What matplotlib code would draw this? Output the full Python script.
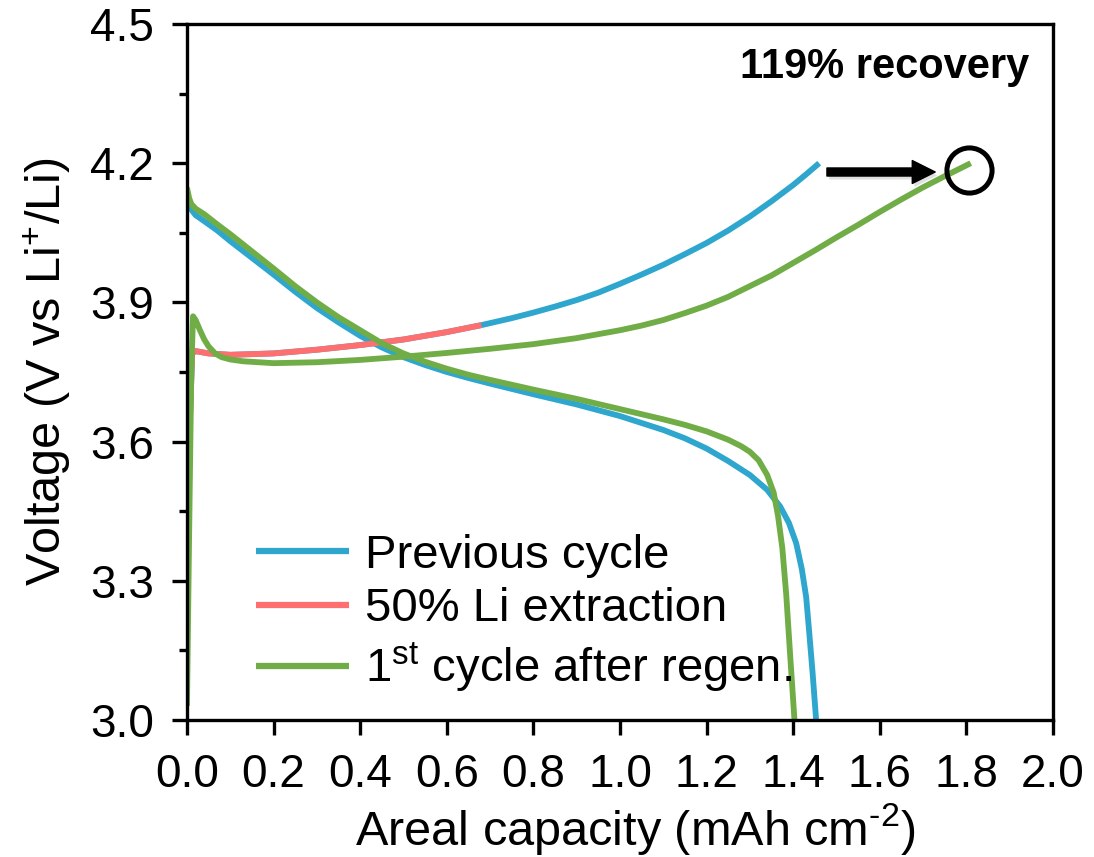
import matplotlib
matplotlib.use("Agg")
import matplotlib.pyplot as plt
import matplotlib.patheffects as pe
from matplotlib.ticker import MultipleLocator, FormatStrFormatter

plt.rcParams['font.family'] = ['Liberation Sans', 'DejaVu Sans']
plt.rcParams['mathtext.fontset'] = 'custom'
plt.rcParams['mathtext.rm'] = 'Liberation Sans'
plt.rcParams['mathtext.it'] = 'Liberation Sans'
plt.rcParams['mathtext.bf'] = 'Liberation Sans:bold'

# ---- data ----
prev_chg_x = [0.0, 0.005, 0.012, 0.02, 0.05, 0.1, 0.2, 0.3, 0.4, 0.5, 0.6, 0.68,
              0.75, 0.8, 0.85, 0.9, 0.95, 1.0, 1.05, 1.1, 1.15, 1.2, 1.25, 1.3,
              1.35, 1.4, 1.43, 1.46]
prev_chg_v = [3.24, 3.60, 3.79, 3.795, 3.79, 3.787, 3.79, 3.798, 3.808, 3.82, 3.836, 3.851,
              3.866, 3.878, 3.891, 3.905, 3.921, 3.94, 3.96, 3.981, 4.004, 4.028, 4.055,
              4.085, 4.118, 4.153, 4.176, 4.20]

prev_dis_x = [0.0, 0.005, 0.01, 0.02, 0.04, 0.07, 0.1, 0.15, 0.2, 0.25, 0.3, 0.35, 0.4,
              0.45, 0.5, 0.55, 0.6, 0.65, 0.7, 0.8, 0.9, 1.0, 1.1, 1.15, 1.2, 1.25,
              1.3, 1.34, 1.37, 1.39, 1.407, 1.42, 1.43, 1.437, 1.445, 1.453]
prev_dis_v = [4.136, 4.115, 4.10, 4.088, 4.075, 4.055, 4.032, 3.996, 3.96, 3.923, 3.888,
              3.857, 3.828, 3.803, 3.782, 3.765, 3.75, 3.737, 3.725, 3.702, 3.68, 3.655,
              3.625, 3.607, 3.585, 3.558, 3.528, 3.496, 3.46, 3.425, 3.381, 3.325,
              3.265, 3.19, 3.10, 3.0]

extr_x = [0.0, 0.005, 0.012, 0.02, 0.05, 0.1, 0.2, 0.3, 0.4, 0.5, 0.6, 0.68]
extr_v = [3.24, 3.60, 3.79, 3.795, 3.79, 3.787, 3.79, 3.798, 3.808, 3.82, 3.836, 3.851]

regen_chg_x = [0.0, 0.005, 0.01, 0.014, 0.02, 0.03, 0.04, 0.05, 0.065, 0.08, 0.1, 0.13,
               0.2, 0.3, 0.4, 0.5, 0.6, 0.7, 0.8, 0.9, 1.0, 1.05, 1.1, 1.15, 1.2, 1.25,
               1.3, 1.35, 1.4, 1.45, 1.5, 1.55, 1.6, 1.65, 1.7, 1.75, 1.81]
regen_chg_v = [3.03, 3.40, 3.75, 3.87, 3.862, 3.84, 3.82, 3.805, 3.79, 3.782, 3.777, 3.773,
               3.769, 3.771, 3.776, 3.783, 3.791, 3.80, 3.81, 3.823, 3.84, 3.85, 3.862,
               3.877, 3.893, 3.912, 3.935, 3.958, 3.985, 4.012, 4.04, 4.067, 4.095,
               4.122, 4.148, 4.172, 4.20]

regen_dis_x = [0.0, 0.005, 0.01, 0.02, 0.04, 0.07, 0.1, 0.15, 0.2, 0.25, 0.3, 0.35, 0.4,
               0.45, 0.5, 0.55, 0.6, 0.65, 0.7, 0.8, 0.9, 1.0, 1.1, 1.15, 1.2, 1.25,
               1.28, 1.3, 1.32, 1.34, 1.355, 1.365, 1.375, 1.384, 1.393, 1.403]
regen_dis_v = [4.147, 4.125, 4.112, 4.102, 4.09, 4.068, 4.047, 4.01, 3.973, 3.935, 3.90,
               3.868, 3.84, 3.812, 3.79, 3.772, 3.757, 3.744, 3.733, 3.712, 3.692, 3.67,
               3.648, 3.636, 3.622, 3.604, 3.59, 3.578, 3.56, 3.528, 3.49, 3.44, 3.37,
               3.27, 3.14, 3.0]

labels = ['Previous cycle', '50% Li extraction', r'1$^{\mathrm{st}}$ cycle after regen.']
colors = ['#2EA6CE', '#FF6F6F', '#70AD47']

arrow_start = (1.478, 4.181)
arrow_end = (1.728, 4.181)
circle_pt = (1.806, 4.185)
annotation_text = '119% recovery'

# ---- figure ----
fig = plt.figure(figsize=(10.94, 8.57), dpi=100)
ax = fig.add_axes([0.1709, 0.1599, 0.7916, 0.8121])

lw = 4.2
ax.plot(prev_chg_x, prev_chg_v, color=colors[0], lw=lw, label=labels[0], solid_capstyle='butt')
ax.plot(prev_dis_x, prev_dis_v, color=colors[0], lw=lw, solid_capstyle='butt')
ax.plot(extr_x, extr_v, color=colors[1], lw=lw, label=labels[1], solid_capstyle='butt')
ax.plot(regen_chg_x, regen_chg_v, color=colors[2], lw=lw, label=labels[2], solid_capstyle='butt')
ax.plot(regen_dis_x, regen_dis_v, color=colors[2], lw=lw, solid_capstyle='butt')

ax.set_xlim(0, 2.0)
ax.set_ylim(3.0, 4.5)
ax.xaxis.set_major_locator(MultipleLocator(0.2))
ax.yaxis.set_major_locator(MultipleLocator(0.3))
ax.yaxis.set_minor_locator(MultipleLocator(0.15))
ax.xaxis.set_major_formatter(FormatStrFormatter('%.1f'))
ax.yaxis.set_major_formatter(FormatStrFormatter('%.1f'))

for s in ax.spines.values():
    s.set_linewidth(2.4)
ax.tick_params(axis='both', which='major', direction='out', length=11, width=2.4,
               labelsize=33, pad=13)
ax.tick_params(axis='y', which='minor', direction='out', length=6, width=2.4)

ax.set_xlabel(r'Areal capacity (mAh cm$^{\text{-}2}$)', fontsize=35)
ax.xaxis.set_label_coords(0.518, -0.117)
ax.set_ylabel(r'Voltage (V vs Li$^{+}$/Li)', fontsize=35, labelpad=12)

arr = ax.annotate('', xy=arrow_end, xytext=arrow_start,
                  arrowprops=dict(facecolor='black', edgecolor='black', width=5.8,
                                  headwidth=16.5, headlength=16.5, shrink=0))
arr.arrow_patch.set_path_effects([pe.SimplePatchShadow(offset=(1.5, -2.5), alpha=0.12),
                                  pe.Normal()])
ax.plot([circle_pt[0]], [circle_pt[1]], marker='o', markersize=32.5,
        markerfacecolor='none', markeredgecolor='black', markeredgewidth=3.6)

ax.text(0.973, 0.967, annotation_text, transform=ax.transAxes, ha='right', va='top',
        fontsize=30, fontweight='bold')

leg = ax.legend(loc='upper left', bbox_to_anchor=(0.0797, 0.2675), frameon=False,
                fontsize=34, handlelength=1.97, handletextpad=0.34, labelspacing=0.2,
                borderaxespad=0, borderpad=0)
for h in leg.get_lines():
    h.set_linewidth(4.5)

fig.savefig('out.png', dpi=100, facecolor='white')
